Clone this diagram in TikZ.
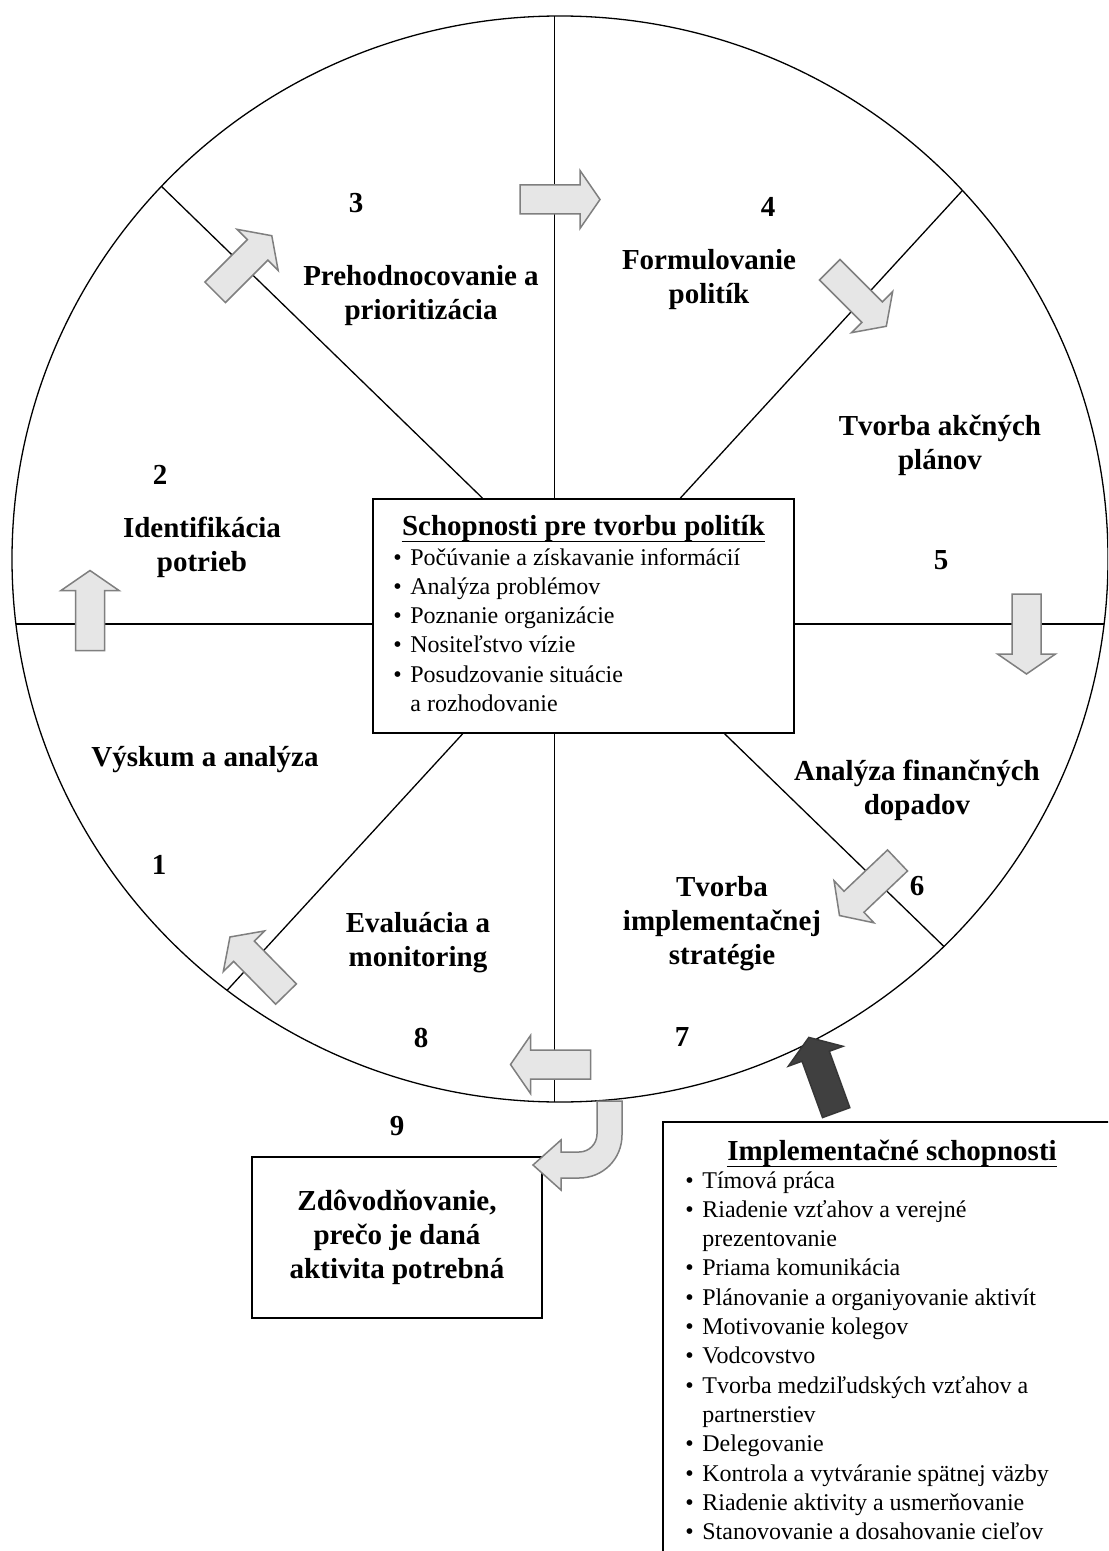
\documentclass[tikz,border=0pt]{standalone}
\usepackage{fontspec}
\setmainfont{Liberation Serif}
\usetikzlibrary{calc}
\definecolor{arrowfill}{HTML}{E6E6E6}
\definecolor{arrowedge}{HTML}{7F7F7F}
\definecolor{darkfill}{HTML}{404040}
\begin{document}
\begin{tikzpicture}[x=0.5pt,y=-0.5pt,
  lbl/.style={inner sep=0pt, align=center, font=\fontsize{14.5}{17}\selectfont\bfseries},
  body/.style={inner sep=0pt, anchor=base west, font=\fontsize{12}{14.65}\selectfont},
  ttl/.style={inner sep=0pt, anchor=base, font=\fontsize{14.5}{17}\selectfont\bfseries},
  framebox/.style={draw=black, line width=0.85pt, fill=white, inner sep=0pt},
  divider/.style={draw=black, line width=0.65pt},
  uline/.style={draw=black, line width=0.6pt},
  blockarrow/.pic={\path[pic actions] (-40,-14.5) -- (20,-14.5) -- (20,-29) -- (40,0) -- (20,29) -- (20,14.5) -- (-40,14.5) -- cycle;},
  lightarrow/.style={fill=arrowfill, draw=arrowedge, line width=0.75pt, line join=miter},
  darkarrow/.style={fill=darkfill, draw=darkfill!85!black, line width=0.75pt, line join=miter}
]
% page area
\clip (0,0) rectangle (1108,1551);
\fill[white] (0,0) rectangle (1108,1551);

% central box of policy-making skills
\node[framebox, minimum width=210.5pt, minimum height=117pt] (policy) at (583.5,616) {};

% attachment points of the sector dividers on the central box
\coordinate (ul) at ($(policy.north west)!0.261!(policy.north east)$);
\coordinate (um) at ($(policy.north west)!0.432!(policy.north east)$);
\coordinate (ur) at ($(policy.north west)!0.729!(policy.north east)$);
\coordinate (ll) at ($(policy.south west)!0.214!(policy.south east)$);
\coordinate (lm) at ($(policy.south west)!0.432!(policy.south east)$);
\coordinate (lr) at ($(policy.south west)!0.834!(policy.south east)$);
\coordinate (wm) at ($(policy.north west)!0.534!(policy.south west)$);
\coordinate (em) at ($(policy.north east)!0.534!(policy.south east)$);

% sector dividers, cut at the rim of the wheel
\begin{scope}
  \clip (560,559) ellipse [x radius=274pt, y radius=271.5pt];
  \draw[divider] (ul) -- ++(-383,-372);
  \draw[divider] (ur) -- ++(342,-373);
  \draw[divider] (ll) -- ++(-281,306);
  \draw[divider] (lr) -- ++(265,257);
  \draw[divider] (um) -- ++(0,-520);
  \draw[divider] (lm) -- ++(0,400);
  \draw[divider] (wm) -- ++(-400,0);
  \draw[divider] (em) -- ++(340,0);
\end{scope}

% rim of the wheel
\draw[divider] (560,559) ellipse [x radius=274pt, y radius=271.5pt];

% boxes redrawn on top of the dividers
\node[framebox, minimum width=210.5pt, minimum height=117pt] at (policy.center) {};
\node[framebox, minimum width=145pt, minimum height=80.5pt, align=center,
      font=\fontsize{14.5}{17}\selectfont\bfseries] (reason) at (397,1237.5)
      {Zdôvodňovanie,\\prečo je daná\\aktivita potrebná};
\node[framebox, minimum width=229pt, minimum height=229pt] (impl) at (892,1351) {};

% cycle arrows
\pic[lightarrow, rotate=45] at (243.5,264) {blockarrow};
\pic[lightarrow, rotate=0] at (560,199.5) {blockarrow};
\pic[lightarrow, rotate=-45] at (858,298) {blockarrow};
\pic[lightarrow, rotate=-90] at (1026.5,634) {blockarrow};
\pic[lightarrow, rotate=-136.5] at (868.5,888) {blockarrow};
\pic[lightarrow, rotate=180] at (550.5,1064.5) {blockarrow};
\pic[lightarrow, rotate=134.5] at (258,965.5) {blockarrow};
\pic[lightarrow, rotate=90] at (90,610.5) {blockarrow};
\pic[darkarrow, rotate=110] at (822.5,1075) {blockarrow};

% bent arrow leading out of the wheel to step 9
\path[lightarrow] (597,1101) -- (597,1134)
  .. controls (597,1144) and (589,1152) .. (579,1152)
  -- (561,1152) -- (561,1140) -- (533,1165) -- (561,1190) -- (561,1178)
  -- (579,1178)
  .. controls (603,1178) and (622,1159) .. (622,1135)
  -- (622,1101) -- cycle;

% step numbers
\node[lbl] (n1) at (159,865) {1};
\node[lbl] (n2) at (160,475) {2};
\node[lbl] (n3) at (356,203) {3};
\node[lbl] (n4) at (768,207) {4};
\node[lbl] (n5) at (941,560) {5};
\node[lbl] (n6) at (917,886) {6};
\node[lbl] (n7) at (682,1037) {7};
\node[lbl] (n8) at (421,1038) {8};
\node[lbl] (n9) at (397,1126) {9};

% step names
\node[lbl] (s1) at (205,760) {Výskum a analýza};
\node[lbl] (s2) at (202,547) {Identifikácia\\potrieb};
\node[lbl] (s3) at (421,296) {Prehodnocovanie a\\prioritizácia};
\node[lbl] (s4) at (709,280) {Formulovanie\\politík};
\node[lbl] (s5) at (940,445) {Tvorba akčných\\plánov};
\node[lbl] (s6) at (917,790) {Analýza finančných\\dopadov};
\node[lbl] (s7) at (722,924) {Tvorba\\implementačnej\\stratégie};
\node[lbl] (s8) at (418,943) {Evaluácia a\\monitoring};

% policy-making skills
\node[ttl] (policyTitle) at (583.5,535.5) {Schopnosti pre tvorbu politík};
\draw[uline] ([yshift=-2.8pt]policyTitle.base west) -- ([yshift=-2.8pt]policyTitle.base east);
\node[body] (policyItems) at (393,565) {%
\begin{tabular}[t]{@{}l@{\hspace{4.3pt}}l@{}}
\textbullet & Počúvanie a získavanie informácií\\
\textbullet & Analýza problémov\\
\textbullet & Poznanie organizácie\\
\textbullet & Nositeľstvo vízie\\
\textbullet & Posudzovanie situácie\\
 & a rozhodovanie
\end{tabular}};

% implementation skills
\node[ttl] (implTitle) at (892,1160.5) {Implementačné schopnosti};
\draw[uline] ([yshift=-2.8pt]implTitle.base west) -- ([yshift=-2.8pt]implTitle.base east);
\node[body] (implItems) at (685,1188) {%
\begin{tabular}[t]{@{}l@{\hspace{4.3pt}}l@{}}
\textbullet & Tímová práca\\
\textbullet & Riadenie vzťahov a verejné\\
 & prezentovanie\\
\textbullet & Priama komunikácia\\
\textbullet & Plánovanie a organiyovanie aktivít\\
\textbullet & Motivovanie kolegov\\
\textbullet & Vodcovstvo\\
\textbullet & Tvorba medziľudských vzťahov a\\
 & partnerstiev\\
\textbullet & Delegovanie\\
\textbullet & Kontrola a vytváranie spätnej väzby\\
\textbullet & Riadenie aktivity a usmerňovanie\\
\textbullet & Stanovovanie a dosahovanie cieľov
\end{tabular}};
\end{tikzpicture}
\end{document}
